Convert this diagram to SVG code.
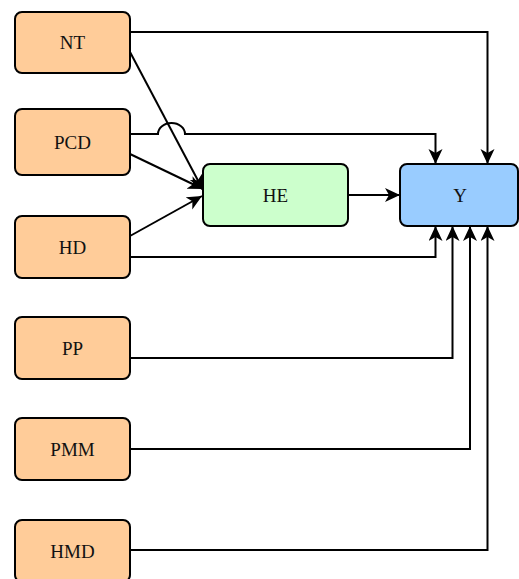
<svg xmlns="http://www.w3.org/2000/svg" width="519" height="579" viewBox="0 0 519 579">
<defs>
<marker id="arr" markerUnits="userSpaceOnUse" markerWidth="16" markerHeight="16" refX="15" refY="7" orient="auto">
<path d="M0,0 L15,7 L0,14 L4,7 Z" fill="#000"/>
</marker>
<style>
.n rect{stroke:#000;stroke-width:2}
.in rect{fill:#FFCC99}
text{font-family:"Liberation Serif","Times New Roman",serif;font-size:19px;fill:#111;text-anchor:middle}
.c path{fill:none;stroke:#000;stroke-width:2;marker-end:url(#arr)}
</style>
</defs>
<rect width="519" height="579" fill="#fff"/>
<g class="c" id="connectors">
<path d="M130,32 H487.5 V164"/>
<path d="M130,52 L203,190"/>
<path d="M130,134 H158 A13.5 11 0 0 1 185 134 H435.5 V164"/>
<path d="M130,154 L203,189"/>
<path d="M130,236 L202,196"/>
<path d="M130,257 H435.5 V226"/>
<path d="M348,195 H400"/>
<path d="M130,358 H452.5 V226"/>
<path d="M130,449 H470 V226"/>
<path d="M130,550 H487.5 V226"/>
</g>
<g id="NT" class="n in"><rect x="15" y="12" width="115" height="61" rx="7"/><text x="72.5" y="49">NT</text></g>
<g id="PCD" class="n in"><rect x="15" y="109" width="115" height="66" rx="7"/><text x="72.5" y="149">PCD</text></g>
<g id="HD" class="n in"><rect x="15" y="216" width="115" height="62" rx="7"/><text x="72.5" y="254">HD</text></g>
<g id="PP" class="n in"><rect x="15" y="317" width="115" height="62" rx="7"/><text x="72.5" y="355">PP</text></g>
<g id="PMM" class="n in"><rect x="15" y="418" width="115" height="62" rx="7"/><text x="72.5" y="456">PMM</text></g>
<g id="HMD" class="n in"><rect x="15" y="520" width="115" height="62" rx="7"/><text x="72.5" y="558">HMD</text></g>
<g id="HE" class="n"><rect x="203" y="164" width="145" height="62" rx="7" fill="#CCFFCC"/><text x="275.5" y="202">HE</text></g>
<g id="Y" class="n"><rect x="400" y="164" width="118" height="62" rx="7" fill="#99CCFF"/><text x="460" y="202">Y</text></g>
</svg>
